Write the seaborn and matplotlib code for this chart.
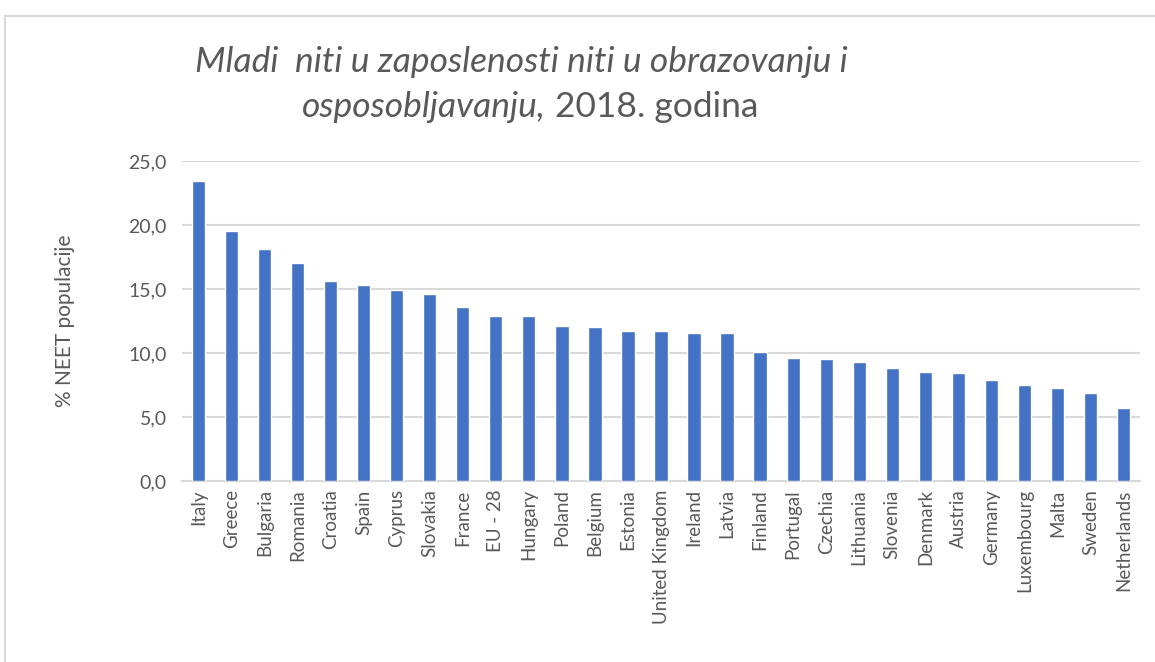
import matplotlib
matplotlib.use("Agg")
import matplotlib.pyplot as plt
import seaborn as sns
import pandas as pd
from matplotlib.patches import Rectangle

# data (NEET %, 2018)
countries = ["Italy", "Greece", "Bulgaria", "Romania", "Croatia", "Spain", "Cyprus",
             "Slovakia", "France", "EU - 28", "Hungary", "Poland", "Belgium", "Estonia",
             "United Kingdom", "Ireland", "Latvia", "Finland", "Portugal", "Czechia",
             "Lithuania", "Slovenia", "Denmark", "Austria", "Germany", "Luxembourg",
             "Malta", "Sweden", "Netherlands"]
neet = [23.4, 19.5, 18.1, 17.0, 15.6, 15.3, 14.9, 14.6, 13.6, 12.9, 12.9, 12.1, 12.0,
        11.7, 11.7, 11.6, 11.6, 10.1, 9.6, 9.5, 9.3, 8.8, 8.5, 8.4, 7.9, 7.5, 7.3,
        6.9, 5.7]
yticks = [0, 5, 10, 15, 20, 25]

df = pd.DataFrame({"country": countries, "value": neet})

sns.set_style("white")
plt.rcParams["font.family"] = ["Lato", "DejaVu Sans"]
grey = "#595959"

W, H = 1155, 662
fig = plt.figure(figsize=(W / 100, H / 100), dpi=100)
ax = fig.add_axes([182 / W, 1 - 481 / H, (1140 - 182) / W, (481 - 161) / H])

sns.barplot(data=df, x="country", y="value", color="#4472C4", width=0.4,
            saturation=1, ax=ax, zorder=3)

ax.set_ylim(0, 25)
ax.set_xlim(-0.5, len(countries) - 0.5)
ax.set_yticks(yticks)
ax.set_yticklabels([f"{v:.1f}".replace(".", ",") for v in yticks], fontsize=14, color=grey)
ax.tick_params(axis="x", labelrotation=90, labelsize=13.5, colors=grey, length=0, pad=6)
ax.tick_params(axis="y", length=0, pad=11)
ax.grid(axis="y", color="#d9d9d9", linewidth=1.5, zorder=0)
for s in ["top", "right", "left"]:
    ax.spines[s].set_visible(False)
ax.spines["bottom"].set_color("#d9d9d9")
ax.spines["bottom"].set_linewidth(1.5)
ax.set_xlabel("")
ax.set_ylabel("% NEET populacije", fontsize=15, color=grey)
ax.yaxis.set_label_coords((75 - 182) / 958, 0.5)

# outer chart frame
fig.patches.append(Rectangle((5 / W, -0.1), 1.2, 1 - 16 / H + 0.1, transform=fig.transFigure,
                             fill=False, edgecolor="#d9d9d9", linewidth=1.5))

# title: italic part + upright part
fig.text(195 / W, 1 - 72 / H, "Mladi  niti u zaposlenosti niti u obrazovanju i",
         fontsize=25.5, style="italic", color=grey, va="baseline", ha="left")
t2 = fig.text(302 / W, 1 - 117 / H, "osposobljavanju,", fontsize=25.5, style="italic",
              color=grey, va="baseline", ha="left")
ax.annotate(" 2018. godina", xy=(1, 0), xycoords=t2, fontsize=25.5, color=grey,
            va="bottom", ha="left", annotation_clip=False)

fig.savefig("out.png", dpi=100)
